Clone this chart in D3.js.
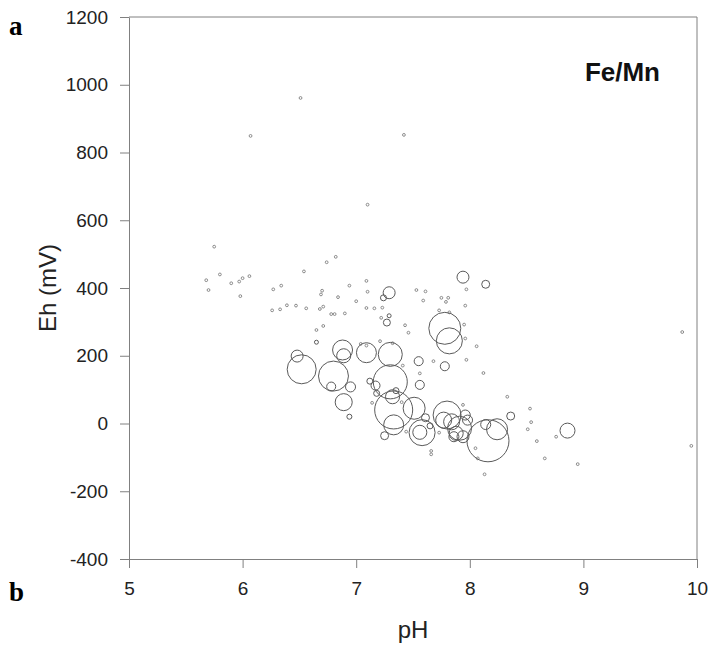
<!DOCTYPE html>
<html>
<head>
<meta charset="utf-8">
<script src="https://cdn.jsdelivr.net/npm/d3@7"></script>
<style>
  body { margin: 0; background: #fff; }
  text { font-family: "Liberation Sans", Arial, sans-serif; }
</style>
</head>
<body>
<div id="chart"></div>
<script>
// data: pH, Eh (mV) and Fe/Mn ratio (bubble size)
var pH = [6.51, 6.07, 7.42, 7.10, 5.75, 5.68, 5.70, 5.80, 5.90, 5.97, 6.00, 6.06, 5.98, 6.27, 6.34,
          6.26, 6.33, 6.39, 6.47, 6.56, 6.54, 6.74, 6.82, 6.68, 6.71, 6.70, 6.69, 6.84, 6.94, 6.78,
          6.81, 6.90, 6.65, 6.71, 7.00, 7.09, 7.10, 7.09, 7.16, 7.23, 7.04, 7.09, 7.22, 7.53, 7.61,
          7.59, 7.75, 7.81, 7.79, 7.97, 7.96, 7.73, 7.82, 7.43, 7.46, 7.95, 7.96, 8.06, 7.68, 7.97,
          7.56, 8.12, 7.21, 7.32, 7.41, 7.14, 7.40, 7.66, 7.66, 8.33, 8.53, 8.54, 8.51, 8.59, 8.76,
          8.66, 8.95, 9.95, 8.13, 8.05, 8.07, 7.94, 7.73, 7.44, 9.87,
          6.48, 6.52, 6.80, 6.88, 6.89, 7.09, 6.65, 7.94, 8.14, 7.29, 7.24, 7.29, 7.27, 7.78, 7.82,
          7.55, 7.78, 7.30, 7.30, 6.78, 6.95, 6.89, 6.94, 7.12, 7.17, 7.18, 7.33, 7.35, 7.32, 7.33,
          7.25, 7.56, 7.51, 7.61, 7.65, 7.58, 7.56, 8.86, 8.36, 8.16, 8.24, 8.14, 7.80, 7.77, 7.84,
          7.91, 7.88, 7.96, 7.98, 7.94, 7.86];
var Eh = [961, 849, 852, 646, 522, 423, 394, 440, 414, 419, 429, 435, 376, 396, 407,
          334, 337, 349, 348, 340, 449, 476, 492, 338, 345, 392, 381, 373, 407, 323,
          323, 325, 276, 288, 361, 421, 389, 341, 340, 342, 235, 230, 312, 394, 390,
          363, 371, 371, 359, 396, 348, 334, 328, 290, 268, 292, 251, 228, 184, 188,
          148, 149, 243, 237, 171, 61, 63, -91, -81, 79, 44, 4, -17, -52, -39,
          -103, -120, -66, -150, -73, -103, 55, -27, -24, 270,
          199, 160, 140, 217, 200, 209, 240, 432, 411, 386, 371, 318, 298, 281, 244,
          184, 169, 204, 123, 109, 108, 63, 20, 125, 112, 89, 40, 97, 79, -4,
          -36, 114, 45, 17, -7, -27, -26, -21, 22, -51, -17, -3, 25, 10, 5,
          -14, -29, 25, 10, -39, -39];
var feMn = [0.2, 0.2, 0.2, 0.2, 0.2, 0.2, 0.2, 0.2, 0.2, 0.2, 0.2, 0.2, 0.2, 0.2, 0.2,
            0.2, 0.2, 0.2, 0.2, 0.2, 0.2, 0.2, 0.2, 0.2, 0.2, 0.2, 0.2, 0.2, 0.2, 0.2,
            0.2, 0.2, 0.2, 0.2, 0.2, 0.2, 0.2, 0.2, 0.2, 0.2, 0.2, 0.2, 0.2, 0.2, 0.2,
            0.2, 0.2, 0.2, 0.2, 0.2, 0.2, 0.2, 0.2, 0.2, 0.2, 0.2, 0.2, 0.2, 0.2, 0.2,
            0.2, 0.2, 0.2, 0.2, 0.2, 0.2, 0.2, 0.2, 0.2, 0.2, 0.2, 0.2, 0.2, 0.2, 0.2,
            0.2, 0.2, 0.2, 0.2, 0.2, 0.2, 0.2, 0.2, 0.2, 0.2,
            3.7, 21.7, 23.2, 10.3, 5.1, 10.3, 0.41, 3.7, 1.65, 3.7, 0.93, 0.41, 1.27, 26.4, 17.5,
            2.1, 2.1, 14.9, 29.9, 2.1, 2.6, 7.5, 0.65, 0.93, 2.1, 0.93, 37.3, 0.93, 5.1, 10.3,
            1.65, 2.1, 12.5, 1.65, 0.93, 17.5, 5.1, 5.8, 1.65, 45.6, 11.4, 2.6, 20.2, 6.6, 6.6,
            14.9, 5.1, 2.6, 2.6, 3.7, 2.6];

var xTicks = [5, 6, 7, 8, 9, 10];
var yTicks = [-400, -200, 0, 200, 400, 600, 800, 1000, 1200];

var data = pH.map(function(d, i) { return {pH: d, Eh: Eh[i], r: feMn[i]}; });

// set the dimensions and margins of the graph
var margin = {top: 17, right: 15, bottom: 86, left: 129},
    width = 712 - margin.left - margin.right,
    height = 645 - margin.top - margin.bottom;

var svgRoot = d3.select("#chart")
  .append("svg")
    .attr("width", 712)
    .attr("height", 645);

var svG = svgRoot.append("g")
    .attr("transform", "translate(" + margin.left + "," + margin.top + ")");

var x = d3.scaleLinear().domain([5, 10]).range([0, width]);
var y = d3.scaleLinear().domain([-400, 1200]).range([height, 0]);
var size = d3.scaleSqrt().domain([0, 50]).range([0, 22]);

var axisColor = "#808080";
var plainNum = function(d) { return String(d); }; // hyphen minus, no grouping

// frame (top + right)
svG.append("line")
  .attr("x1", 0).attr("x2", width).attr("y1", 0).attr("y2", 0)
  .attr("stroke", axisColor);
svG.append("line")
  .attr("x1", width).attr("x2", width).attr("y1", 0).attr("y2", height)
  .attr("stroke", axisColor);

// X axis
var gx = svG.append("g")
  .attr("transform", "translate(0," + height + ")")
  .call(d3.axisBottom(x).tickValues(xTicks).tickFormat(plainNum)
    .tickSize(9).tickSizeOuter(0).tickPadding(14));

// Y axis
var gy = svG.append("g")
  .call(d3.axisLeft(y).tickValues(yTicks).tickFormat(plainNum)
    .tickSize(9).tickSizeOuter(0).tickPadding(12));

[gx, gy].forEach(function(g) {
  g.select(".domain").attr("stroke", axisColor);
  g.selectAll(".tick line").attr("stroke", axisColor);
  g.selectAll(".tick text")
    .attr("fill", "#222")
    .style("font-size", "19px")
    .style("font-family", "'Liberation Sans', Arial, sans-serif");
});

// bubbles
svG.selectAll("circle.pt")
  .data(data)
  .enter()
  .append("circle")
    .attr("class", "pt")
    .attr("cx", function(d) { return x(d.pH); })
    .attr("cy", function(d) { return y(d.Eh); })
    .attr("r", function(d) { return size(d.r); })
    .attr("fill", "none")
    .attr("stroke", function(d) { return d.r < 0.3 ? "#8a8a8a" : "#5a5a5a"; })
    .attr("stroke-width", 1);

// axis titles
svgRoot.append("text")
  .attr("x", 413).attr("y", 638)
  .attr("text-anchor", "middle")
  .style("font-size", "24px")
  .attr("fill", "#222")
  .text("pH");

svgRoot.append("text")
  .attr("transform", "translate(56,288) rotate(-90)")
  .attr("text-anchor", "middle")
  .style("font-size", "24px")
  .attr("fill", "#222")
  .text("Eh (mV)");

svgRoot.append("text")
  .attr("x", 660).attr("y", 81)
  .attr("text-anchor", "end")
  .style("font-size", "26px")
  .style("font-weight", "bold")
  .attr("fill", "#111")
  .text("Fe/Mn");

// panel letters
svgRoot.append("text")
  .attr("x", 9).attr("y", 35)
  .style("font-family", "'Liberation Serif', 'Times New Roman', serif")
  .style("font-size", "27px")
  .style("font-weight", "bold")
  .text("a");

svgRoot.append("text")
  .attr("x", 9).attr("y", 601)
  .style("font-family", "'Liberation Serif', 'Times New Roman', serif")
  .style("font-size", "27px")
  .style("font-weight", "bold")
  .text("b");
</script>
</body>
</html>
